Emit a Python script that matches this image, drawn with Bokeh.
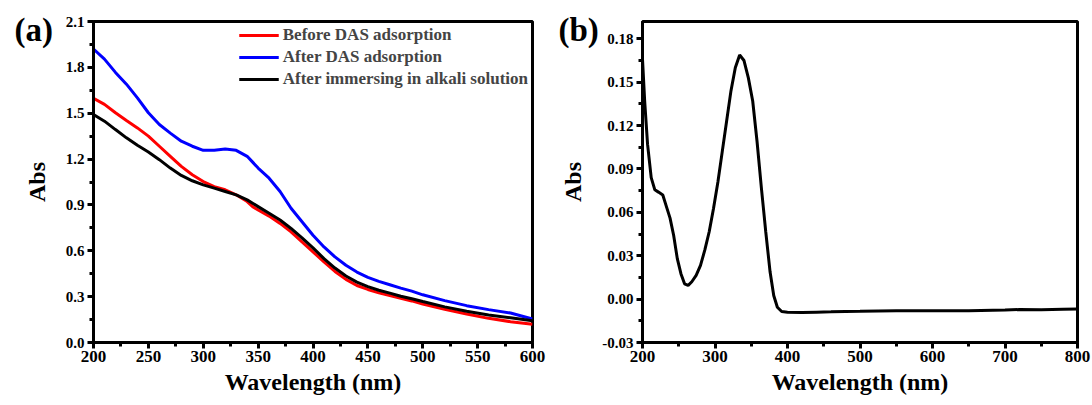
from bokeh.plotting import figure
from bokeh.layouts import row
from bokeh.models import (SingleIntervalTicker, PrintfTickFormatter, Title, Legend, LegendItem, Range1d)
from bokeh.embed import file_html
from bokeh.resources import INLINE

# ---------------- data: panel (a) ----------------
wl_a = [200, 210, 220, 230, 240, 250, 260, 270, 280, 290, 300, 310, 320, 330, 340, 345, 350,
        360, 370, 380, 390, 400, 410, 420, 430, 440, 450, 460, 470, 480, 490, 500, 520, 540,
        560, 580, 600]
before_das = [1.598, 1.558, 1.503, 1.453, 1.404, 1.350, 1.284, 1.218, 1.152, 1.097, 1.053, 1.020,
              0.999, 0.966, 0.922, 0.889, 0.867, 0.827, 0.779, 0.724, 0.658, 0.593, 0.527, 0.465,
              0.413, 0.373, 0.347, 0.325, 0.307, 0.290, 0.272, 0.252, 0.217, 0.187, 0.158, 0.136,
              0.119]
after_das = [1.920, 1.854, 1.767, 1.690, 1.600, 1.503, 1.426, 1.370, 1.317, 1.284, 1.257, 1.257,
             1.266, 1.257, 1.218, 1.180, 1.141, 1.075, 0.988, 0.878, 0.790, 0.702, 0.625, 0.560,
             0.505, 0.461, 0.426, 0.400, 0.378, 0.356, 0.336, 0.312, 0.274, 0.241, 0.215, 0.193,
             0.154]
after_alkali = [1.492, 1.448, 1.393, 1.339, 1.290, 1.246, 1.196, 1.141, 1.093, 1.058, 1.031, 1.010,
                0.988, 0.966, 0.933, 0.911, 0.889, 0.845, 0.801, 0.746, 0.685, 0.619, 0.549, 0.487,
                0.435, 0.395, 0.366, 0.342, 0.323, 0.303, 0.286, 0.268, 0.233, 0.204, 0.180, 0.162,
                0.143]
series_names = ["Before DAS adsorption", "After DAS adsorption", "After immersing in alkali solution"]
series_colors = ["#ff0000", "#0000ff", "#000000"]

# ---------------- data: panel (b) ----------------
wl_b = [200, 203, 207, 212, 217, 222, 228, 233, 238, 243, 248, 253, 258, 263, 268, 274, 280, 286,
        292, 298, 304, 310, 316, 322, 328, 334, 340, 346, 352, 358, 364, 370, 376, 381, 386, 392,
        400, 420, 440, 460, 480, 500, 525, 550, 600, 650, 700, 720, 750, 780, 800]
abs_b = [0.166, 0.137, 0.107, 0.084, 0.0756, 0.074, 0.072, 0.064, 0.056, 0.044, 0.028, 0.0176,
         0.0106, 0.0095, 0.012, 0.0164, 0.0234, 0.034, 0.0466, 0.0628, 0.081, 0.102, 0.123, 0.144,
         0.160, 0.1688, 0.165, 0.153, 0.137, 0.109, 0.0767, 0.0466, 0.0187, 0.0025, -0.0056,
         -0.0086, -0.009, -0.0092, -0.009, -0.0088, -0.0085, -0.0084, -0.0082, -0.008, -0.008,
         -0.008, -0.0075, -0.0072, -0.0073, -0.007, -0.0068]

panel_tags = ["(a)", "(b)"]

FONT = "Liberation Serif"


def style(p, xint, yint, yfmt):
    p.grid.visible = False
    p.outline_line_color = "black"
    p.outline_line_width = 3
    p.xaxis.ticker = SingleIntervalTicker(interval=xint, num_minor_ticks=2)
    p.yaxis.ticker = SingleIntervalTicker(interval=yint, num_minor_ticks=2)
    p.yaxis.formatter = PrintfTickFormatter(format=yfmt)
    for ax in (p.xaxis[0], p.yaxis[0]):
        ax.axis_line_width = 3
        ax.axis_line_color = "black"
        ax.major_tick_line_width = 3
        ax.minor_tick_line_width = 3
        ax.major_tick_out = 6
        ax.major_tick_in = 0
        ax.minor_tick_out = 4
        ax.minor_tick_in = 0
        ax.major_label_text_font = FONT
        ax.major_label_text_font_style = "bold"
        ax.major_label_text_color = "black"
        ax.axis_label_text_font = FONT
        ax.axis_label_text_font_style = "bold"
        ax.axis_label_text_font_size = "24px"
        ax.axis_label_text_color = "black"
    p.xaxis.major_label_text_font_size = "17px"
    p.yaxis.major_label_text_font_size = "15px"
    p.xaxis.major_label_standoff = 2
    p.yaxis.major_label_standoff = 3
    p.xaxis.axis_label = "Wavelength (nm)"
    p.yaxis.axis_label = "Abs"
    p.xaxis.axis_label_standoff = 4
    p.yaxis.axis_label_standoff = 13


def tag(p, text, offset):
    p.add_layout(Title(text=text, align="left", offset=offset, standoff=-52,
                       text_font=FONT, text_font_style="bold", text_font_size="33px",
                       text_color="black"), "above")


# ---------------- panel (a) ----------------
pa = figure(frame_width=439, frame_height=321, output_backend="svg", toolbar_location=None,
            x_range=Range1d(200, 600), y_range=Range1d(0, 2.1),
            min_border_left=93, min_border_right=14, min_border_top=21, min_border_bottom=40)
style(pa, 50, 0.3, "%.1f")
items = []
for name, ys, col in zip(series_names, [before_das, after_das, after_alkali], series_colors):
    r = pa.line(wl_a, ys, line_color=col, line_width=3)
    items.append(LegendItem(label=name, renderers=[r]))
leg = Legend(items=items, location="top_right", border_line_alpha=0, background_fill_alpha=0,
             label_text_font=FONT, label_text_font_style="bold", label_text_font_size="17px",
             glyph_width=40, glyph_height=20, label_height=20, label_standoff=4, spacing=2,
             padding=4, margin=0)
pa.add_layout(leg)
tag(pa, panel_tags[0], -79)

# ---------------- panel (b) ----------------
pb = figure(frame_width=435, frame_height=321, output_backend="svg", toolbar_location=None,
            x_range=Range1d(200, 800), y_range=Range1d(-0.03, 0.192),
            min_border_left=96, min_border_right=15, min_border_top=21, min_border_bottom=40)
style(pb, 100, 0.03, "%.2f")
pb.line(wl_b, abs_b, line_color="black", line_width=3)
tag(pb, panel_tags[1], -84)

layout = row(pa, pb)
open("out.html", "w").write(file_html(layout, INLINE))
